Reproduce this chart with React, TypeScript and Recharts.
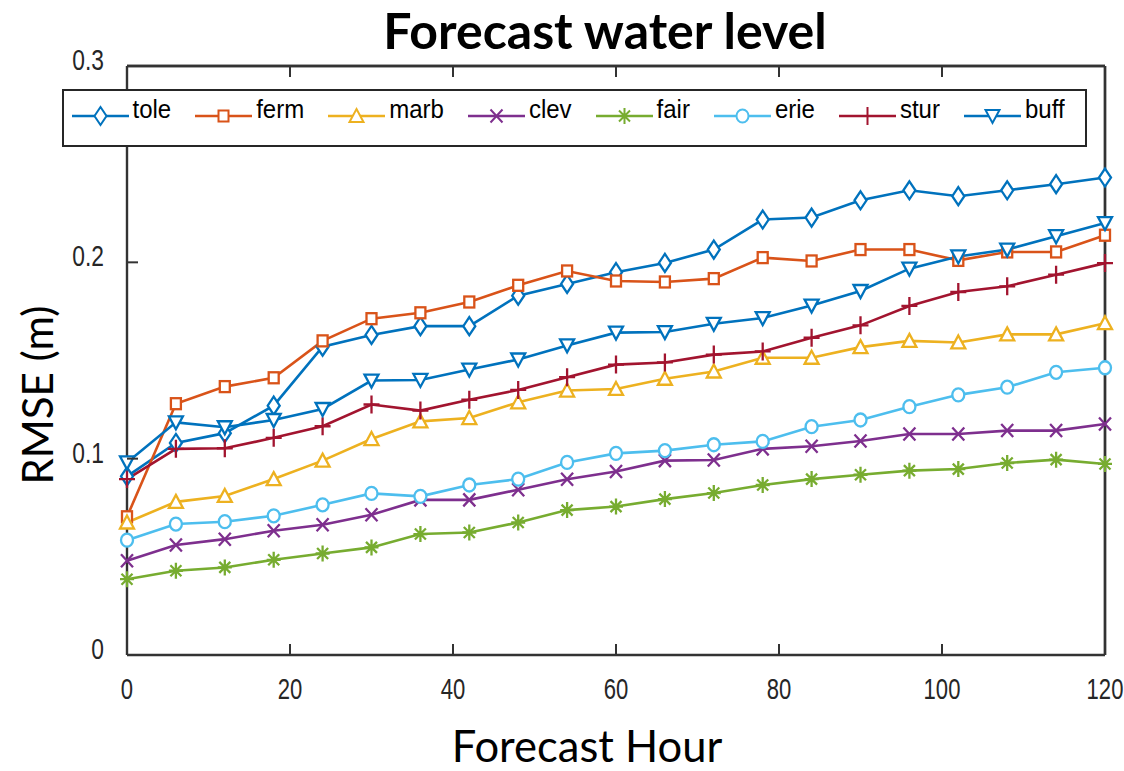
import React from 'react';
import { LineChart, Line, XAxis, YAxis, Legend, ReferenceLine } from 'recharts';

const hours = [0, 6, 12, 18, 24, 30, 36, 42, 48, 54, 60, 66, 72, 78, 84, 90, 96, 102, 108, 114, 120];
const tole = [0.091, 0.108, 0.113, 0.127, 0.157, 0.163, 0.1675, 0.1675, 0.183, 0.189, 0.195, 0.1997, 0.2065, 0.2218, 0.2228, 0.2316, 0.2367, 0.2337, 0.2367, 0.2398, 0.2432];
const ferm = [0.0704, 0.128, 0.1367, 0.1412, 0.16, 0.1713, 0.1743, 0.1798, 0.1883, 0.1956, 0.1905, 0.19, 0.1917, 0.2024, 0.2007, 0.2065, 0.2065, 0.201, 0.2053, 0.2053, 0.2138];
const marb = [0.0675, 0.078, 0.081, 0.0896, 0.099, 0.11, 0.119, 0.1207, 0.1287, 0.1347, 0.1355, 0.1407, 0.1444, 0.1514, 0.1514, 0.1568, 0.16, 0.1592, 0.1633, 0.1633, 0.169];
const clev = [0.048, 0.056, 0.059, 0.0633, 0.0663, 0.0714, 0.079, 0.079, 0.0842, 0.0895, 0.0935, 0.099, 0.0993, 0.105, 0.1063, 0.109, 0.1126, 0.1126, 0.1143, 0.1143, 0.1177];
const fair = [0.0386, 0.0429, 0.0446, 0.0485, 0.0517, 0.0548, 0.0616, 0.0624, 0.0675, 0.0738, 0.0756, 0.0794, 0.0825, 0.0866, 0.0896, 0.0918, 0.0939, 0.0947, 0.0978, 0.0995, 0.0973];
const erie = [0.0585, 0.0667, 0.0679, 0.0709, 0.0765, 0.0823, 0.0808, 0.0866, 0.0896, 0.0981, 0.1027, 0.1041, 0.1071, 0.1088, 0.1163, 0.1197, 0.1265, 0.1325, 0.1364, 0.144, 0.1463];
const stur = [0.0896, 0.105, 0.1053, 0.1106, 0.1165, 0.1276, 0.1245, 0.13, 0.135, 0.1415, 0.1479, 0.149, 0.153, 0.1546, 0.1616, 0.1679, 0.1778, 0.1849, 0.1878, 0.1937, 0.1996];
const buff = [0.0981, 0.1185, 0.116, 0.1197, 0.1253, 0.1398, 0.1401, 0.1454, 0.1505, 0.1577, 0.1642, 0.1645, 0.1687, 0.1716, 0.178, 0.1854, 0.1968, 0.203, 0.2065, 0.2133, 0.22];

const xTicks = [0, 20, 40, 60, 80, 100, 120];
const yTicks = [0, 0.1, 0.2, 0.3];
const yTickLabels = ['0', '0.1', '0.2', '0.3'];

const titleText = 'Forecast water level';
const xLabelText = 'Forecast Hour';
const yLabelText = 'RMSE (m)';

const seriesValues: Record<string, number[]> = { tole, ferm, marb, clev, fair, erie, stur, buff };

const SERIES = [
  { key: 'tole', color: '#0072BD', shape: 'diamond' },
  { key: 'ferm', color: '#D95319', shape: 'square' },
  { key: 'marb', color: '#EDB120', shape: 'triUp' },
  { key: 'clev', color: '#7E2F8E', shape: 'x' },
  { key: 'fair', color: '#77AC30', shape: 'asterisk' },
  { key: 'erie', color: '#4DBEEE', shape: 'circle' },
  { key: 'stur', color: '#A2142F', shape: 'plus' },
  { key: 'buff', color: '#0072BD', shape: 'triDown' },
];

const data = hours.map((h, i) => {
  const row: any = { hour: h };
  SERIES.forEach((s) => {
    row[s.key] = seriesValues[s.key][i];
  });
  return row;
});

const AXIS = '#333333';
const TICK_FONT = '"Liberation Sans", Arial, Helvetica, sans-serif';
const LABEL_FONT = "Lato, 'Open Sans', sans-serif";

function MarkerShape({ shape, cx, cy, color, sw = 2.3 }: any) {
  if (cx == null || cy == null) return null;
  const filled = { stroke: color, strokeWidth: sw, fill: '#ffffff' };
  const open = { stroke: color, strokeWidth: sw, fill: 'none' };
  switch (shape) {
    case 'diamond':
      return <path d={`M${cx},${cy - 9}L${cx + 6},${cy}L${cx},${cy + 9}L${cx - 6},${cy}Z`} {...filled} />;
    case 'square':
      return <rect x={cx - 5} y={cy - 5.5} width={10} height={11} {...filled} />;
    case 'triUp':
      return <path d={`M${cx},${cy - 7}L${cx + 7},${cy + 6}L${cx - 7},${cy + 6}Z`} {...filled} />;
    case 'triDown':
      return <path d={`M${cx - 7},${cy - 6}L${cx + 7},${cy - 6}L${cx},${cy + 7}Z`} {...filled} />;
    case 'circle':
      return <ellipse cx={cx} cy={cy} rx={6} ry={6.5} {...filled} />;
    case 'x':
      return (
        <path d={`M${cx - 6},${cy - 6.5}L${cx + 6},${cy + 6.5}M${cx - 6},${cy + 6.5}L${cx + 6},${cy - 6.5}`} {...open} />
      );
    case 'plus':
      return <path d={`M${cx},${cy - 9}L${cx},${cy + 9}M${cx - 8},${cy}L${cx + 8},${cy}`} {...open} />;
    case 'asterisk':
      return (
        <path
          d={`M${cx},${cy - 8}L${cx},${cy + 8}M${cx - 7},${cy}L${cx + 7},${cy}M${cx - 5.5},${cy - 5.5}L${cx + 5.5},${cy + 5.5}M${cx - 5.5},${cy + 5.5}L${cx + 5.5},${cy - 5.5}`}
          {...open}
        />
      );
    default:
      return null;
  }
}

const BottomTick = (props: any) => {
  const { x, y, payload } = props;
  return (
    <g>
      <line x1={x} x2={x} y1={y} y2={y - 11} stroke={AXIS} strokeWidth={2} />
      <text
        transform={`translate(${x},${y + 44}) scale(0.92,1.25)`}
        textAnchor="middle"
        fontFamily={TICK_FONT}
        fontSize={24}
        fill="#262626"
      >
        {payload.value}
      </text>
    </g>
  );
};

const TopTick = (props: any) => {
  const { x, y } = props;
  return <line x1={x} x2={x} y1={y} y2={y + 11} stroke={AXIS} strokeWidth={2} />;
};

const LeftTick = (props: any) => {
  const { x, y, payload } = props;
  const idx = yTicks.indexOf(payload.value);
  return (
    <g>
      <line x1={x} x2={x + 11} y1={y} y2={y} stroke={AXIS} strokeWidth={2} />
      <text
        transform={`translate(${x - 23},${y + 4}) scale(0.95,1.25)`}
        textAnchor="end"
        fontFamily={TICK_FONT}
        fontSize={24}
        fill="#262626"
      >
        {idx >= 0 ? yTickLabels[idx] : payload.value}
      </text>
    </g>
  );
};

const RightTick = (props: any) => {
  const { x, y } = props;
  return <line x1={x} x2={x - 11} y1={y} y2={y} stroke={AXIS} strokeWidth={2} />;
};

const renderLegend = () => (
  <div
    style={{
      width: 1025,
      height: 58,
      border: '2.5px solid #262626',
      boxSizing: 'border-box',
      background: '#ffffff',
      position: 'relative',
    }}
  >
    <div
      style={{
        position: 'absolute',
        left: 7.5,
        top: 14.5,
        height: 20,
        display: 'flex',
        alignItems: 'center',
        gap: 24,
      }}
    >
      {SERIES.map((s) => (
        <div key={s.key} style={{ display: 'flex', alignItems: 'center', height: 20 }}>
          <svg width={57} height={20} style={{ overflow: 'visible', display: 'block' }}>
            <line x1={0} x2={57} y1={10} y2={10} stroke={s.color} strokeWidth={2.4} />
            <MarkerShape shape={s.shape} cx={28.5} cy={10} color={s.color} sw={2} />
          </svg>
          <span
            style={{
              marginLeft: 4,
              fontFamily: TICK_FONT,
              fontSize: 24,
              lineHeight: '20px',
              color: '#000000',
              position: 'relative',
              top: -7,
              whiteSpace: 'nowrap',
              display: 'inline-block',
              transform: 'scaleY(1.1)',
            }}
          >
            {s.key}
          </span>
        </div>
      ))}
    </div>
  </div>
);

export default function App() {
  return (
    <div style={{ position: 'absolute', left: 0, top: 0, width: 1124, height: 771, background: '#ffffff' }}>
      <LineChart width={1124} height={771} data={data} margin={{ top: 65, right: 18, bottom: 76, left: 67 }}>
        <XAxis
          dataKey="hour"
          type="number"
          domain={[0, 120]}
          ticks={xTicks}
          interval={0}
          height={40}
          tickSize={0}
          tickMargin={0}
          tickLine={false}
          axisLine={{ stroke: AXIS, strokeWidth: 2.4 }}
          tick={(p: any) => <BottomTick {...p} />}
        />
        <XAxis
          xAxisId="top"
          orientation="top"
          dataKey="hour"
          type="number"
          domain={[0, 120]}
          ticks={xTicks}
          interval={0}
          height={1}
          tickSize={0}
          tickMargin={0}
          tickLine={false}
          axisLine={{ stroke: AXIS, strokeWidth: 2.4 }}
          tick={(p: any) => <TopTick {...p} />}
        />
        <YAxis
          type="number"
          domain={[0, 0.3]}
          ticks={yTicks}
          interval={0}
          width={60}
          tickSize={0}
          tickMargin={0}
          tickLine={false}
          axisLine={{ stroke: AXIS, strokeWidth: 2.4 }}
          tick={(p: any) => <LeftTick {...p} />}
        />
        <YAxis
          yAxisId="right"
          orientation="right"
          type="number"
          domain={[0, 0.3]}
          ticks={yTicks}
          interval={0}
          width={1}
          tickSize={0}
          tickMargin={0}
          tickLine={false}
          axisLine={{ stroke: AXIS, strokeWidth: 2.4 }}
          tick={(p: any) => <RightTick {...p} />}
        />
        <ReferenceLine y={0.3} stroke={AXIS} strokeWidth={2.4} ifOverflow="extendDomain" />
        <ReferenceLine x={120} stroke={AXIS} strokeWidth={2.4} ifOverflow="extendDomain" />
        <Legend
          layout="horizontal"
          verticalAlign="middle"
          align="center"
          content={renderLegend}
          wrapperStyle={{ position: 'absolute', left: 62, top: 89, width: 1025, height: 58 }}
        />
        {SERIES.map((s) => (
          <Line
            key={s.key}
            dataKey={s.key}
            type="linear"
            stroke={s.color}
            strokeWidth={2.6}
            isAnimationActive={false}
            dot={(p: any) => (
              <MarkerShape key={`${s.key}-${p.index}`} shape={s.shape} cx={p.cx} cy={p.cy} color={s.color} />
            )}
            activeDot={false}
          />
        ))}
      </LineChart>
      <svg
        width={1124}
        height={771}
        style={{ position: 'absolute', left: 0, top: 0, pointerEvents: 'none' }}
      >
        <text x={605} y={49} textAnchor="middle" fontFamily={LABEL_FONT} fontWeight={700} fontSize={50} fill="#000">
          {titleText}
        </text>
        <text x={587} y={762} textAnchor="middle" fontFamily={LABEL_FONT} fontSize={43.5} fill="#000">
          {xLabelText}
        </text>
        <text
          transform="translate(53,395) rotate(-90)"
          textAnchor="middle"
          fontFamily={LABEL_FONT}
          fontSize={42}
          fill="#000"
        >
          {yLabelText}
        </text>
      </svg>
    </div>
  );
}
